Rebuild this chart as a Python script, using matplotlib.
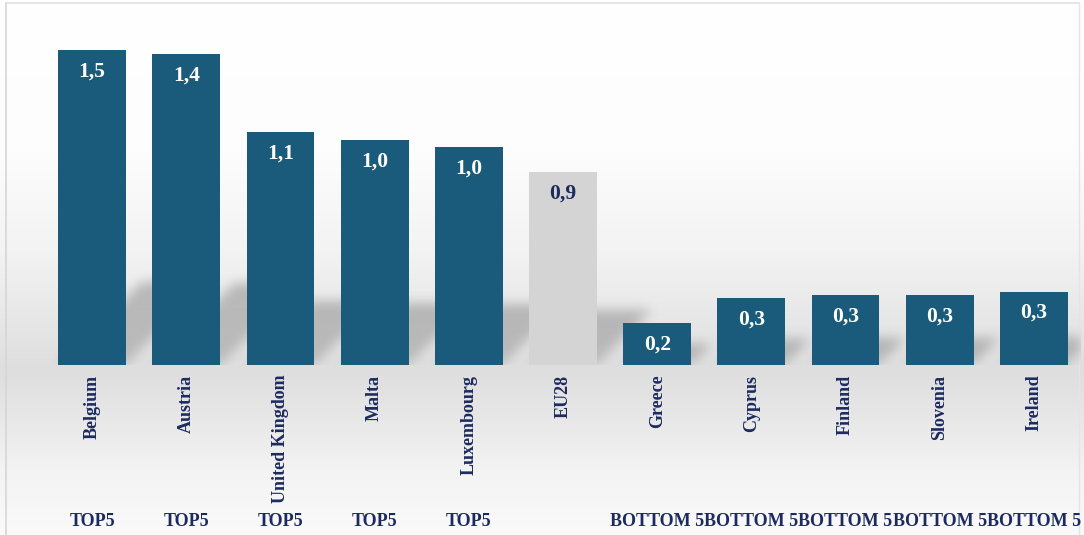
import numpy as np
import matplotlib
matplotlib.use("Agg")
import matplotlib.pyplot as plt

# ---- data ----
countries = ["Belgium", "Austria", "United Kingdom", "Malta", "Luxembourg", "EU28",
             "Greece", "Cyprus", "Finland", "Slovenia", "Ireland"]
values = [1.50, 1.48, 1.11, 1.07, 1.04, 0.92, 0.20, 0.32, 0.335, 0.335, 0.35]
value_labels = ["1,5", "1,4", "1,1", "1,0", "1,0", "0,9", "0,2", "0,3", "0,3", "0,3", "0,3"]
groups = ["TOP5", "TOP5", "TOP5", "TOP5", "TOP5", "",
          "BOTTOM 5", "BOTTOM 5", "BOTTOM 5", "BOTTOM 5", "BOTTOM 5"]

BAR = "#1a5a7a"
EU = "#d4d4d4"
NAVY = "#1c2a5e"
FONT = "Liberation Serif"

W, H = 1084, 535
fig = plt.figure(figsize=(W / 100, H / 100), dpi=100)

# background gradient
bg = fig.add_axes([0, 0, 1, 1], zorder=0)
ys = np.array([0, 150, 250, 330, 370, 420, 470, 535])
vs = np.array([255, 253, 243, 229, 222, 232, 243, 250]) / 255.0
col = np.interp(np.arange(H), ys, vs)
img = np.repeat(col[:, None], 4, axis=1)
bg.imshow(np.dstack([img, img, img]), aspect="auto", extent=[0, W, H, 0])
bg.set_xlim(0, W)
bg.set_ylim(H, 0)
bg.axis("off")
bg.plot([6, 6], [3, H], color="#d6d6d6", lw=1.2)
bg.plot([6, 1079], [3, 3], color="#e0e0e0", lw=1.2)
bg.plot([1079, 1079], [3, H], color="#e4e4e4", lw=1.0)

ax = fig.add_axes([45 / W, 170 / H, 1036 / W, 336 / H], zorder=1)
ax.patch.set_alpha(0)
x = np.arange(len(countries))
xlo, xhi, ylo, yhi = -0.5, len(countries) - 0.5, 0.0, 1.6
ax.set_xlim(xlo, xhi)
ax.set_ylim(ylo, yhi)

# soft perspective shadows (blurred mask computed from the bar values)
bw = 0.72
nx, ny = 1036, 336
gx = np.linspace(xlo, xhi, nx)
gy = np.linspace(ylo, yhi, ny)
GX, GY = np.meshgrid(gx, gy)
mask = np.zeros((ny, nx))
px_x = nx / (xhi - xlo)
px_y = ny / (yhi - ylo)
for i, v in enumerate(values):
    hs = 0.23 * v + 0.05
    dx = (hs * px_y * 1.0) / px_x
    t = np.clip(GY / hs, 0, None)
    inside = (GY <= hs) & (GX >= i - bw / 2 + dx * t) & (GX <= i + bw / 2 + dx * t)
    mask = np.maximum(mask, inside * (0.75 + 0.25 * t))


def box_blur(a, r, axis):
    k = np.ones(2 * r + 1) / (2 * r + 1)
    return np.apply_along_axis(lambda m: np.convolve(m, k, mode="same"), axis, a)


pad = 20
big = np.zeros((ny + 2 * pad, nx + 2 * pad))
big[pad:pad + ny, pad:pad + nx] = mask
for _ in range(3):
    big = box_blur(big, 5, 0)
    big = box_blur(big, 5, 1)
mask = big[pad:pad + ny, pad:pad + nx]
rgba = np.zeros((ny, nx, 4))
rgba[..., :3] = 0.35
rgba[..., 3] = mask * 0.36
ax.imshow(rgba, extent=[xlo, xhi, ylo, yhi], origin="lower", aspect="auto",
          zorder=1, interpolation="bilinear")
ax.set_xlim(xlo, xhi)
ax.set_ylim(ylo, yhi)

colors = [EU if c == "EU28" else BAR for c in countries]
ax.bar(x, values, width=bw, color=colors, zorder=3)

for i, (v, lab, c) in enumerate(zip(values, value_labels, countries)):
    ax.annotate(lab, (i, v), xytext=(0, -15.5), textcoords="offset points",
                ha="center", va="center", fontsize=15.5, fontweight="bold",
                family=FONT, color=NAVY if c == "EU28" else "white", zorder=4)

ax.set_xticks(x)
ax.set_xticklabels(countries, rotation=90, fontsize=13, fontweight="bold",
                   family=FONT, color=NAVY)
ax.tick_params(axis="x", length=0, pad=7)
ax.set_yticks([])
for s in ax.spines.values():
    s.set_visible(False)

trans = matplotlib.transforms.blended_transform_factory(ax.transData, fig.transFigure)
for i, g in enumerate(groups):
    if g:
        ax.text(i, (H - 522) / H, g, transform=trans, ha="center", va="center",
                fontsize=13, fontweight="bold", family=FONT, color=NAVY)

fig.savefig("out.png", dpi=100)
